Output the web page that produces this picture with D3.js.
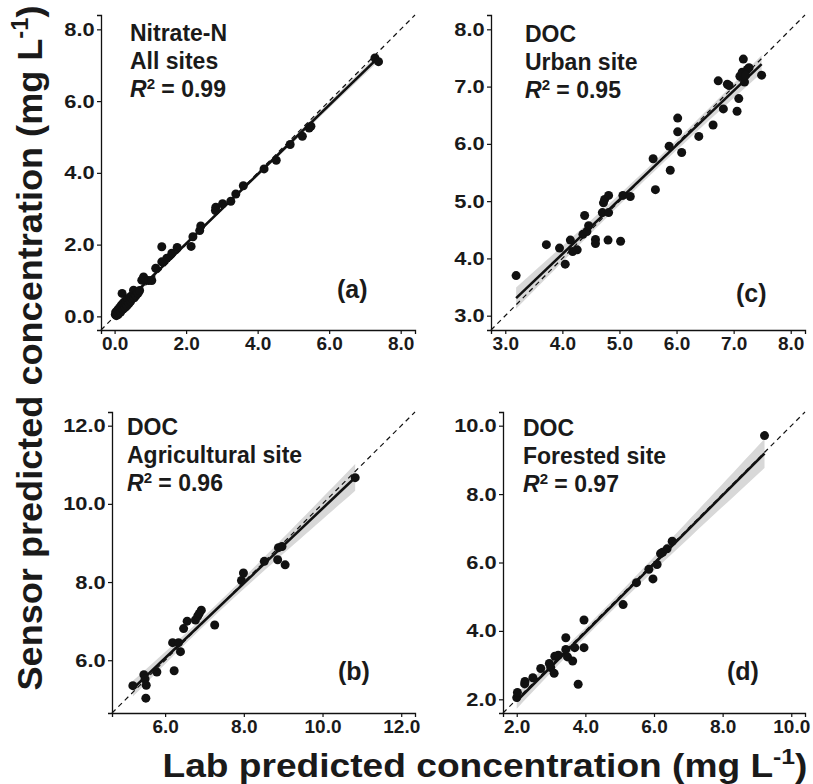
<!DOCTYPE html>
<html>
<head>
<meta charset="utf-8">
<script src="https://cdn.jsdelivr.net/npm/d3@7"></script>
<style>
  body { margin: 0; background: #fff; }
  text { font-family: "Liberation Sans", Arial, sans-serif; font-weight: bold; fill: #1a1a1a; }
</style>
</head>
<body>
<div id="chart"></div>
<script>
// Lab vs sensor predicted concentrations
const nitrateLab = [0.02,0.03,0.05,0.06,0.08,0.10,0.10,0.12,0.14,0.15,0.17,0.18,0.20,0.21,0.22,0.24,0.25,0.27,0.28,0.30,0.32,0.33,0.35,0.37,0.38,0.40,0.42,0.44,0.45,0.48,0.50,0.53,0.55,0.58,0.60,0.63,0.66,0.70,0.76,0.81,0.95,1.04,1.15,1.32,1.32,1.46,1.60,1.75,2.14,2.19,2.38,2.41,2.82,2.83,3.02,3.25,3.39,3.60,4.18,4.52,4.91,5.25,5.44,5.49,7.28,7.38];
const nitrateSensor = [0.05,0.12,0.02,0.08,0.15,0.05,0.20,0.10,0.18,0.25,0.12,0.30,0.22,0.64,0.35,0.20,0.28,0.40,0.32,0.25,0.38,0.45,0.30,0.42,0.50,0.36,0.48,0.55,0.42,0.50,0.60,0.73,0.52,0.60,0.58,0.66,0.65,0.72,1.01,1.10,1.00,1.00,1.34,1.52,1.94,1.62,1.76,1.92,1.95,2.22,2.39,2.52,2.95,3.04,3.14,3.21,3.41,3.64,4.11,4.35,4.79,5.02,5.25,5.30,7.20,7.10];

const urbanLab = [3.19,3.72,3.95,4.05,4.14,4.18,4.26,4.39,4.36,4.43,4.46,4.58,4.58,4.70,4.72,4.74,4.81,4.81,4.80,5.02,5.06,5.19,5.59,5.63,5.87,5.89,6.02,6.02,6.09,6.39,6.64,6.73,6.82,6.89,6.92,7.06,7.09,7.11,7.15,7.17,7.19,7.24,7.27,7.49,7.21];
const urbanSensor = [3.70,4.24,4.18,3.90,4.32,4.12,4.15,4.75,4.42,4.47,4.57,4.33,4.26,4.80,4.97,5.03,5.10,4.80,4.32,4.30,5.10,5.08,5.74,5.20,5.96,5.54,6.45,6.21,5.85,6.13,6.33,7.10,6.61,7.04,7.02,6.57,6.79,7.18,7.25,7.48,7.08,7.30,7.33,7.20,7.20];

const agLab = [5.18,5.46,5.49,5.52,5.51,5.79,6.19,6.23,6.34,6.39,6.47,6.56,6.77,6.83,6.87,6.92,7.26,7.94,7.99,8.52,8.86,8.88,8.97,9.05,10.83];
const agSensor = [5.35,5.63,5.52,5.36,5.03,5.70,6.45,5.73,6.45,6.22,6.81,7.00,7.03,7.13,7.20,7.28,6.90,8.04,8.23,8.53,8.57,8.88,8.91,8.44,10.67];

const forestLab = [2.00,2.02,2.24,2.23,2.47,2.70,2.95,2.99,3.09,3.11,3.21,3.43,3.43,3.48,3.63,3.69,3.79,3.96,3.96,5.10,5.49,5.85,5.97,6.09,6.19,6.25,6.38,6.53,9.22];
const forestSensor = [2.05,2.20,2.52,2.45,2.63,2.90,3.05,2.93,2.76,3.26,3.29,3.80,3.46,3.24,3.12,3.51,2.44,4.32,3.51,4.77,5.41,5.80,5.52,5.94,6.26,6.30,6.40,6.62,9.71];

// tick values per panel
const ticksA = [0, 2, 4, 6, 8];
const ticksC = [3, 4, 5, 6, 7, 8];
const ticksB = [6, 8, 10, 12];
const ticksD = [2, 4, 6, 8, 10];

const width = 813, height = 784;

const svg = d3.select("#chart").append("svg")
  .attr("width", width)
  .attr("height", height);

// panel boxes in pixels (left, right, top, bottom) and text placement
const panels = [
  { lab: nitrateLab, sensor: nitrateSensor, domain: [-0.38, 8.4], ticks: ticksA,
    box: [101, 415, 15, 330], title: ["Nitrate-N", "All sites"], r2: "0.99",
    tx: 130, ty: 41, tag: "(a)", tagX: 337, tagY: 298 },
  { lab: urbanLab, sensor: urbanSensor, domain: [2.75, 8.25], ticks: ticksC,
    box: [491, 805, 15, 330], title: ["DOC", "Urban site"], r2: "0.95",
    tx: 525, ty: 42, tag: "(c)", tagX: 736, tagY: 302 },
  { lab: agLab, sensor: agSensor, domain: [4.65, 12.35], ticks: ticksB,
    box: [112, 415, 412, 713], title: ["DOC", "Agricultural site"], r2: "0.96",
    tx: 127, ty: 435, tag: "(b)", tagX: 338, tagY: 680 },
  { lab: forestLab, sensor: forestSensor, domain: [1.6, 10.4], ticks: ticksD,
    box: [503, 805, 412, 713], title: ["DOC", "Forested site"], r2: "0.97",
    tx: 523, ty: 436, tag: "(d)", tagX: 727, tagY: 680 }
];

// rough t quantile (0.975) for the confidence band
function tq(df) { return 1.96 + 2.5 / df; }

panels.forEach(p => {
  const [left, right, top, bottom] = p.box;
  const x = d3.scaleLinear().domain(p.domain).range([left, right]);
  const y = d3.scaleLinear().domain(p.domain).range([bottom, top]);
  const g = svg.append("g");

  // least squares fit (geom_smooth method = "lm")
  const n = p.lab.length;
  const xm = d3.mean(p.lab), ym = d3.mean(p.sensor);
  let sxx = 0, sxy = 0;
  p.lab.forEach((v, i) => { sxx += (v - xm) ** 2; sxy += (v - xm) * (p.sensor[i] - ym); });
  const b = sxy / sxx, a = ym - b * xm;
  let sse = 0;
  p.lab.forEach((v, i) => { sse += (p.sensor[i] - (a + b * v)) ** 2; });
  const s = Math.sqrt(sse / (n - 2)), t = tq(n - 2);
  const [xmin, xmax] = d3.extent(p.lab);
  const xs = d3.range(0, 41).map(k => xmin + (xmax - xmin) * k / 40);
  const band = xs.map(v => {
    const fit = a + b * v;
    const se = s * Math.sqrt(1 / n + (v - xm) ** 2 / sxx);
    return { x: v, lo: fit - t * se, hi: fit + t * se };
  });

  g.append("path")
    .datum(band)
    .attr("fill", "#d8d8d8")
    .attr("d", d3.area().x(d => x(d.x)).y0(d => y(d.lo)).y1(d => y(d.hi)));

  // 1:1 line
  g.append("line")
    .attr("x1", x(p.domain[0])).attr("y1", y(p.domain[0]))
    .attr("x2", x(p.domain[1])).attr("y2", y(p.domain[1]))
    .attr("stroke", "#111").attr("stroke-width", 1.2)
    .attr("stroke-dasharray", "5,4");

  // fitted line
  g.append("line")
    .attr("x1", x(xmin)).attr("y1", y(a + b * xmin))
    .attr("x2", x(xmax)).attr("y2", y(a + b * xmax))
    .attr("stroke", "#111").attr("stroke-width", 2.6);

  g.selectAll("circle")
    .data(p.lab.map((v, i) => [v, p.sensor[i]]))
    .enter().append("circle")
    .attr("cx", d => x(d[0]))
    .attr("cy", d => y(d[1]))
    .attr("r", 4.5)
    .attr("fill", "#111");

  // axes
  const fmt = d3.format(".1f");
  const xAxis = g.append("g")
    .attr("transform", `translate(0,${bottom})`)
    .call(d3.axisBottom(x).tickValues(p.ticks).tickFormat(fmt).tickSizeOuter(0).tickSize(4).tickPadding(3));
  const yAxis = g.append("g")
    .attr("transform", `translate(${left},0)`)
    .call(d3.axisLeft(y).tickValues(p.ticks).tickFormat(fmt).tickSizeOuter(0).tickSize(4).tickPadding(2));
  [xAxis, yAxis].forEach(ax => {
    ax.select(".domain").attr("stroke", "#111").attr("stroke-width", 1.3);
    ax.selectAll(".tick line").attr("stroke", "#111").attr("stroke-width", 1.2);
    ax.selectAll("text").style("font-size", "19px").attr("fill", "#1a1a1a");
  });
  // y labels in the figure are a little wider than the x labels
  yAxis.selectAll(".tick text").attr("x", -5.5).attr("transform", "scale(1.15,1)");

  // annotations
  p.title.forEach((line, i) => {
    g.append("text").attr("x", p.tx).attr("y", p.ty + i * 28)
      .style("font-size", "23px").text(line);
  });
  const r2 = g.append("text").attr("x", p.tx).attr("y", p.ty + 56).style("font-size", "23px");
  r2.append("tspan").style("font-style", "italic").text("R");
  r2.append("tspan").attr("dy", -8).style("font-size", "15px").text("2");
  r2.append("tspan").attr("dy", 8).text(" = " + p.r2);

  g.append("text").attr("x", p.tagX).attr("y", p.tagY)
    .style("font-size", "25px").text(p.tag);
});

// shared axis titles
const xt = svg.append("text")
  .attr("x", 485).attr("y", 777)
  .attr("text-anchor", "middle")
  .attr("textLength", 645)
  .attr("lengthAdjust", "spacingAndGlyphs")
  .style("font-size", "33px");
xt.append("tspan").text("Lab predicted concentration (mg L");
xt.append("tspan").attr("dy", -13).style("font-size", "22px").text("-1");
xt.append("tspan").attr("dy", 13).text(")");

const yt = svg.append("text")
  .attr("transform", "translate(42,348) rotate(-90)")
  .attr("text-anchor", "middle")
  .attr("textLength", 685)
  .attr("lengthAdjust", "spacingAndGlyphs")
  .style("font-size", "35px");
yt.append("tspan").text("Sensor predicted concentration (mg L");
yt.append("tspan").attr("dy", -14).style("font-size", "23px").text("-1");
yt.append("tspan").attr("dy", 14).text(")");
</script>
</body>
</html>
